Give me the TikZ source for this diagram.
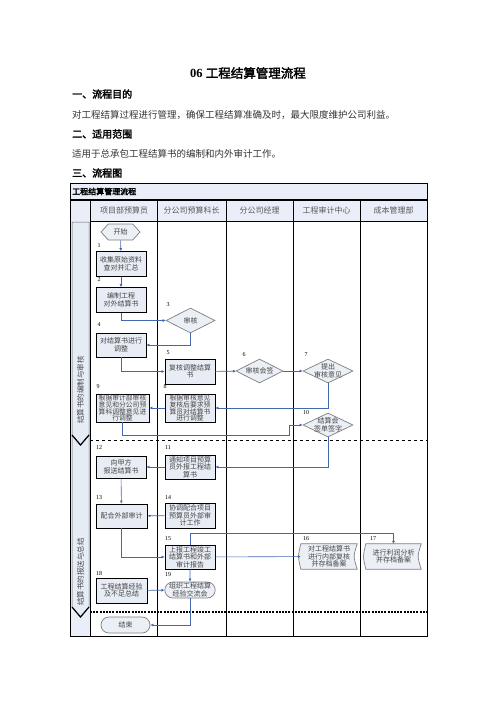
\documentclass[tikz,border=0pt]{standalone}
\usepackage{fontspec}
\setmainfont{Liberation Serif}
\newfontfamily\cjk[AutoFakeBold=2.5]{Noto Sans CJK SC}
\usetikzlibrary{shapes.geometric,shapes.misc,shapes.symbols,arrows.meta,backgrounds}

\definecolor{headfill}{HTML}{E9EEF8}
\definecolor{bandfill}{HTML}{E6ECF6}
\definecolor{boxfill}{HTML}{E8ECF4}
\definecolor{diafill}{HTML}{EBEFF6}
\definecolor{diagray}{HTML}{7F7F7F}
\definecolor{flowblue}{HTML}{4468AE}
\definecolor{txtgray}{HTML}{454545}

\tikzstyle{stepbox} = [draw=black, line width=0.9pt, fill=boxfill, minimum width=50pt, minimum height=25pt, inner sep=0pt, align=center, text=txtgray, font=\cjk\fontsize{7}{7.6}\selectfont]
\tikzstyle{tightbox} = [font=\cjk\fontsize{6.8}{6.9}\selectfont]
\tikzstyle{decision} = [diamond, draw=diagray, line width=0.7pt, fill=diafill, minimum width=49pt, minimum height=25pt, inner sep=0pt]
\tikzstyle{dtext} = [inner sep=0pt, align=center, text=txtgray, font=\cjk\fontsize{7}{7.6}\selectfont]
\tikzstyle{terminal} = [rounded rectangle, draw=diagray, line width=0.7pt, fill=diafill, minimum width=49pt, minimum height=16pt, inner sep=0pt, text=txtgray, font=\cjk\fontsize{7}{7.6}\selectfont]
\tikzstyle{startshape} = [signal, signal to=west and east, signal pointer angle=95, draw=diagray, line width=0.7pt, fill=diafill, minimum width=39pt, minimum height=16pt, inner sep=0pt, text=txtgray, font=\cjk\fontsize{7}{7.6}\selectfont]
\tikzstyle{storebox} = [minimum width=55pt, minimum height=25pt, inner sep=0pt, align=center, text=txtgray, font=\cjk\fontsize{7}{7.6}\selectfont]
\tikzstyle{num} = [inner sep=0pt, font=\fontsize{6}{6}\selectfont]
\tikzstyle{flow} = [draw=flowblue, line width=0.6pt, -{Latex[length=3pt,width=3pt]}]
\tikzstyle{colhead} = [inner sep=0pt, text=black!65, font=\cjk\fontsize{8}{8}\selectfont]
\tikzstyle{heading} = [anchor=west, inner sep=0pt, font=\cjk\bfseries\fontsize{10}{10}\selectfont]
\tikzstyle{bodytext} = [anchor=west, inner sep=0pt, text=black!80, font=\cjk\fontsize{9.5}{9.5}\selectfont]

% stored data outline behind a node
\def\storedpath#1{%
  \filldraw[draw=diagray, line width=0.7pt, fill=diafill]
    (#1.north west) .. controls ([xshift=-3pt]#1.west) .. (#1.south west)
    -- (#1.south east) .. controls ([xshift=-4pt]#1.east) .. (#1.north east) -- cycle;}

\begin{document}
\begin{tikzpicture}[x=1pt,y=-1pt]
        \useasboundingbox (0,0) rectangle (496,702);
        % title and text
        \node[inner sep=0pt] (title) at (248,73) {\bfseries\fontsize{12.5}{12.5}\selectfont 06 {\cjk 工程结算管理流程}};
        \node[heading] (aim) at (72,94) {一、流程目的};
        \node[bodytext] (aimtext) at (72,115) {对工程结算过程进行管理，确保工程结算准确及时，最大限度维护公司利益。};
        \node[heading] (scope) at (72,134) {二、适用范围};
        \node[bodytext] (scopetext) at (72,154) {适用于总承包工程结算书的编制和内外审计工作。};
        \node[heading] (chart) at (72,173) {三、流程图};

        % table frame
        \fill[headfill] (70,183) rectangle (427,221);
        \fill[headfill] (70,221) rectangle (90,636);
        \node[anchor=west, inner sep=0pt, font=\cjk\bfseries\fontsize{8}{8}\selectfont] (tabhead) at (72,191.5) {工程结算管理流程};
        \draw[line width=0.9pt] (70,183) rectangle (427,636);
        \draw[line width=1.8pt] (70,200) -- (427,200);
        \draw[line width=0.9pt] (90,221) -- (427,221);
        \foreach \x in {90.5,157,226,293,360}
            \draw[line width=0.9pt] (\x,200) -- (\x,636);

        % phase band
        \filldraw[fill=bandfill, draw=black!60, line width=0.5pt] (72,222) -- (89,222) -- (89,435) -- (80.5,445) -- (72,435) -- cycle;
        \filldraw[fill=bandfill, draw=black!60, line width=0.5pt] (72,435) -- (80.5,445) -- (89,435) -- (89,607) -- (80.5,617) -- (72,607) -- cycle;
        \draw[line width=1.2pt] (72,435) -- (80.5,445) -- (89,435);
        \draw[line width=1.2pt] (72,607) -- (80.5,617) -- (89,607);
        \node[rotate=90, inner sep=0pt, text=black!70, font=\cjk\fontsize{7.5}{7.5}\selectfont] (phase1) at (80.5,390) {结算书的编制与审核};
        \node[rotate=90, inner sep=0pt, text=black!70, font=\cjk\fontsize{7.5}{7.5}\selectfont] (phase2) at (80.5,572) {结算书的报送与总结};
        \draw[dashed, line width=0.8pt] (90,440) -- (427,440);
        \draw[dash pattern=on 2pt off 1.2pt, line width=1.5pt] (90,612) -- (427,612);

        % column heads
        \foreach \t/\x [count=\i] in {项目部预算员/124, 分公司预算科长/191.5, 分公司经理/259.5, 工程审计中心/326.5, 成本管理部/393.5}
            \node[colhead] (h\i) at (\x,210.5) {\t};

        % steps
        \node[startshape] (start) at (120.5,232) {开始};
        \node[stepbox] (n1) at (121,264) {收集原始资料\\查对并汇总};
        \node[stepbox] (n2) at (121,300) {编制工程\\对外结算书};
        \node[decision, label={[dtext]center:审核}] (n3) at (190.5,320.5) {};
        \node[stepbox, minimum height=24pt] (n4) at (121,345) {对结算书进行\\调整};
        \node[stepbox] (n5) at (190,371.5) {复核调整结算\\书};
        \node[decision, minimum width=47pt, minimum height=24pt, label={[dtext]center:审核会签}] (n6) at (259.5,371) {};
        \node[decision, minimum width=50pt, minimum height=24pt, label={[dtext]center:提出\\审核意见}] (n7) at (328,371) {};
        \node[stepbox, tightbox, minimum height=28pt] (n8) at (190,408) {根据审核意见\\复核后要求预\\算员对结算书\\进行调整};
        \node[stepbox, tightbox, minimum width=53pt, minimum height=28pt] (n9) at (122.5,408) {根据审计部审核\\意见和分公司预\\算科调整意见进\\行调整};
        \node[decision, minimum width=50pt, minimum height=24pt, label={[dtext]center:结算会\\签单签字}] (n10) at (328,425) {};
        \node[stepbox, minimum height=24pt] (n11) at (190,467) {通知项目预算\\员外报工程结\\算书};
        \node[stepbox, minimum height=22pt] (n12) at (121,467) {向甲方\\报送结算书};
        \node[stepbox, minimum width=51pt, minimum height=24pt] (n13) at (121.5,516) {配合外部审计};
        \node[stepbox] (n14) at (190,515.5) {协调配合项目\\预算员外部审\\计工作};
        \node[stepbox, minimum height=24pt] (n15) at (190,557) {上报工程竣工\\结算书和外部\\审计报告};
        \node[storebox, minimum width=56pt] (n16) at (329,556.5) {对工程结算书\\进行内部复核\\并存档备案};
        \node[storebox] (n17) at (393.5,556.5) {进行利润分析\\并存档备案};
        \node[stepbox, minimum width=51pt] (n18) at (121.5,590.5) {工程结算经验\\及不足总结};
        \node[terminal, minimum width=50pt, align=center] (n19) at (190,590) {组织工程结算\\经验交流会};
        \node[terminal] (end) at (125.5,625) {结束};
        \begin{scope}[on background layer]
            \storedpath{n16}
            \storedpath{n17}
        \end{scope}

        % step numbers
        \foreach \n/\x/\y in {1/99/246, 2/99/280, 3/168/305, 4/99/325, 5/168/353, 6/244/355, 7/306/355, 8/165/387, 9/98/387, 10/306/413, 11/168/448, 12/99/448, 13/99/498, 14/168/498, 15/168/539, 16/306/539, 17/373/539, 18/99/574, 19/168/575}
            \node[num] (lab\n) at (\x,\y) {\n};

        % Draw edges
        \coordinate (c9) at (289,435);
        \coordinate (c15) at (190,533);
        \draw[flow] (start) -- (n1);
        \draw[flow] (n1) -- (n2);
        \draw[flow] (n2.south) |- (n3.west);
        \draw[flow] (n3.south) |- (n4.east);
        \draw[flow] (n4.south) |- (n5.west);
        \draw[flow] (n5) -- (n6);
        \draw[flow] (n6) -- (n7);
        \draw[flow] (n7.south) |- (n8.east);
        \draw[flow] (n8) -- (n9);
        \draw[flow] (n9.south) |- (c9) |- (n10.west);
        \draw[flow] (n10.south) |- (n11.east);
        \draw[flow] (n11) -- (n12);
        \draw[flow] (n12) -- (n13);
        \draw[flow] (n14) -- (n13);
        \draw[flow] (n13.south) |- (n15.west);
        \draw[flow] (n15.north) -- (c15) -| (n17.north);
        \draw[flow] (n15) -- (n16);
        \draw[flow] (n15) -- (n19);
        \draw[flow] (n18) -- (n19);
        \draw[flow] (n19.south) |- (end.east);
\end{tikzpicture}
\end{document}
